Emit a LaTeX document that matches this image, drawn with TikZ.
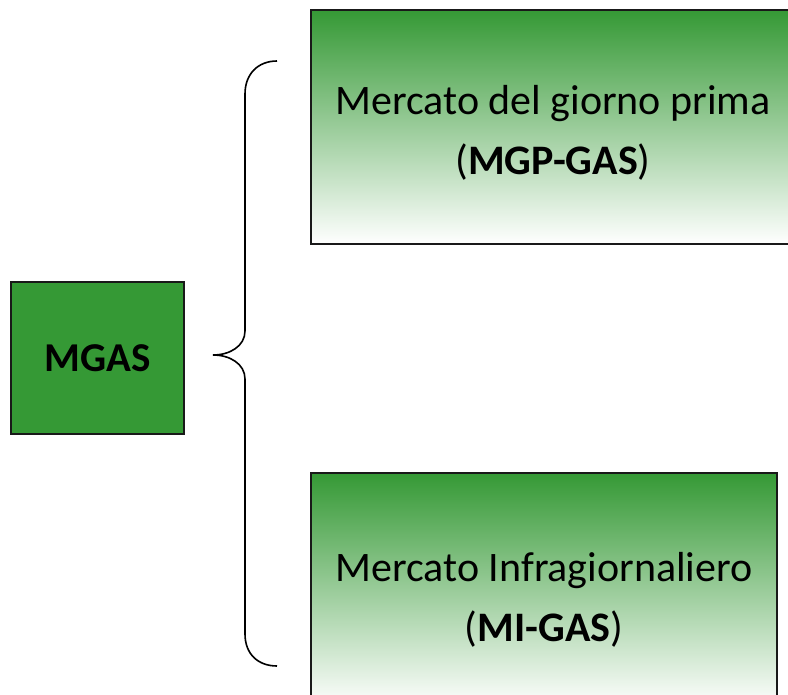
\documentclass[tikz,border=0pt]{standalone}
\usepackage{fontspec}
\setmainfont{Carlito}
\usepackage{tikz}
\usepackage{xcolor}
\definecolor{gasgreen}{RGB}{53,153,53}

\begin{document}
\begin{tikzpicture}[x=1pt,y=-1pt,
            market/.style={shape=rectangle, draw=black!90, line width=1.3pt, top color=gasgreen, middle color=gasgreen!40, bottom color=white, inner sep=0pt, minimum height=234pt},
            marketlabel/.style={align=center, inner sep=0pt, font=\fontsize{42}{60}\selectfont},
            root/.style={shape=rectangle, draw=black!90, line width=1.3pt, fill=gasgreen, minimum width=173pt, minimum height=152pt, inner sep=0pt, font=\fontsize{41}{49}\selectfont\bfseries}]
        \useasboundingbox (0,0) rectangle (788,695);
        \clip (0,0) rectangle (788,695);

        \node[root] (mgas) at (97.5,358) {MGAS};

        \node[market, minimum width=484pt] (mgp) at (553,127) {};
        \node[marketlabel] (mgp label) at (553,133) {Mercato del giorno prima\\(\textbf{MGP-GAS})};

        \node[market, minimum width=466pt] (mi) at (544,590) {};
        \node[marketlabel] (mi label) at (544,600) {Mercato Infragiornaliero\\(\textbf{MI-GAS})};

        \coordinate (brace top) at (277,61);
        \coordinate (brace tip) at (213,355);
        \coordinate (brace bottom) at (277,666);
        \draw[line width=1.6pt] (brace top) .. controls (258,61) and (245,74) .. (245,94) -- (245,331)
            .. controls (245,346) and (230,355) .. (brace tip)
            .. controls (230,355) and (245,364) .. (245,379) -- (245,634)
            .. controls (245,654) and (258,666) .. (brace bottom);
    \end{tikzpicture}
\end{document}
